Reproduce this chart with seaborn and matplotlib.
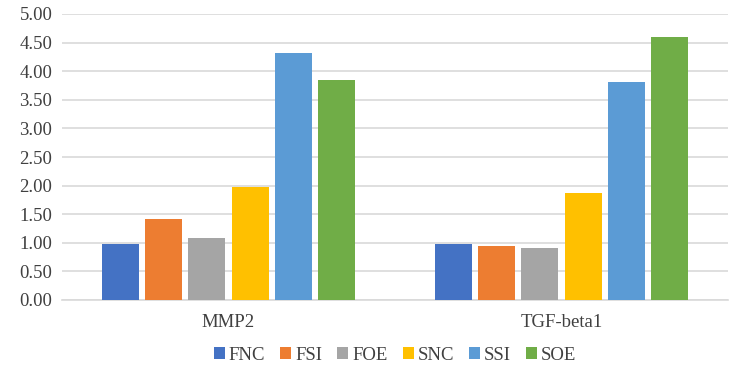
import pandas as pd
import matplotlib.pyplot as plt
import seaborn as sns

genes = ["MMP2", "TGF-beta1"]
groups = ["FNC", "FSI", "FOE", "SNC", "SSI", "SOE"]
mmp2 = [0.98, 1.42, 1.09, 1.98, 4.32, 3.85]
tgf_beta1 = [0.98, 0.94, 0.91, 1.87, 3.81, 4.59]
colors = ["#4472C4", "#ED7D31", "#A5A5A5", "#FFC000", "#5B9BD5", "#70AD47"]

df = pd.DataFrame({
    "gene": [genes[0]] * len(groups) + [genes[1]] * len(groups),
    "group": groups * 2,
    "value": mmp2 + tgf_beta1,
})

sns.set_style("white")
plt.rcParams["font.family"] = ["Liberation Serif", "DejaVu Serif"]

fig = plt.figure(figsize=(7.39, 3.80), dpi=100)
ax = fig.add_axes([62 / 739, 80 / 380, 666 / 739, 286 / 380])

sns.barplot(data=df, x="gene", y="value", hue="group", palette=colors,
            width=0.78, gap=0.15, saturation=1, linewidth=0, ax=ax, zorder=3)

ax.set_ylim(0, 5)
ax.set_yticks([i * 0.5 for i in range(11)])
ax.set_yticklabels([f"{i * 0.5:.2f}" for i in range(11)])
ax.yaxis.grid(True, color="#D9D9D9", linewidth=1.2, zorder=0)
ax.set_axisbelow(True)
for s in ["top", "right", "left"]:
    ax.spines[s].set_visible(False)
ax.spines["bottom"].set_color("#D9D9D9")
ax.spines["bottom"].set_linewidth(1.2)
ax.tick_params(axis="both", length=0, labelsize=13.5, colors="#404040")
ax.tick_params(axis="y", pad=7)
ax.tick_params(axis="x", pad=10)
ax.set_xlabel("")
ax.set_ylabel("")

handles, labels = ax.get_legend_handles_labels()
ax.legend(handles, labels, loc="upper center", bbox_to_anchor=(0.5, -0.105),
          ncol=6, frameon=False, fontsize=13.5, handlelength=0.6, handleheight=0.6,
          handletextpad=0.2, columnspacing=0.8, labelcolor="#404040")

fig.savefig("out.png", dpi=100)
